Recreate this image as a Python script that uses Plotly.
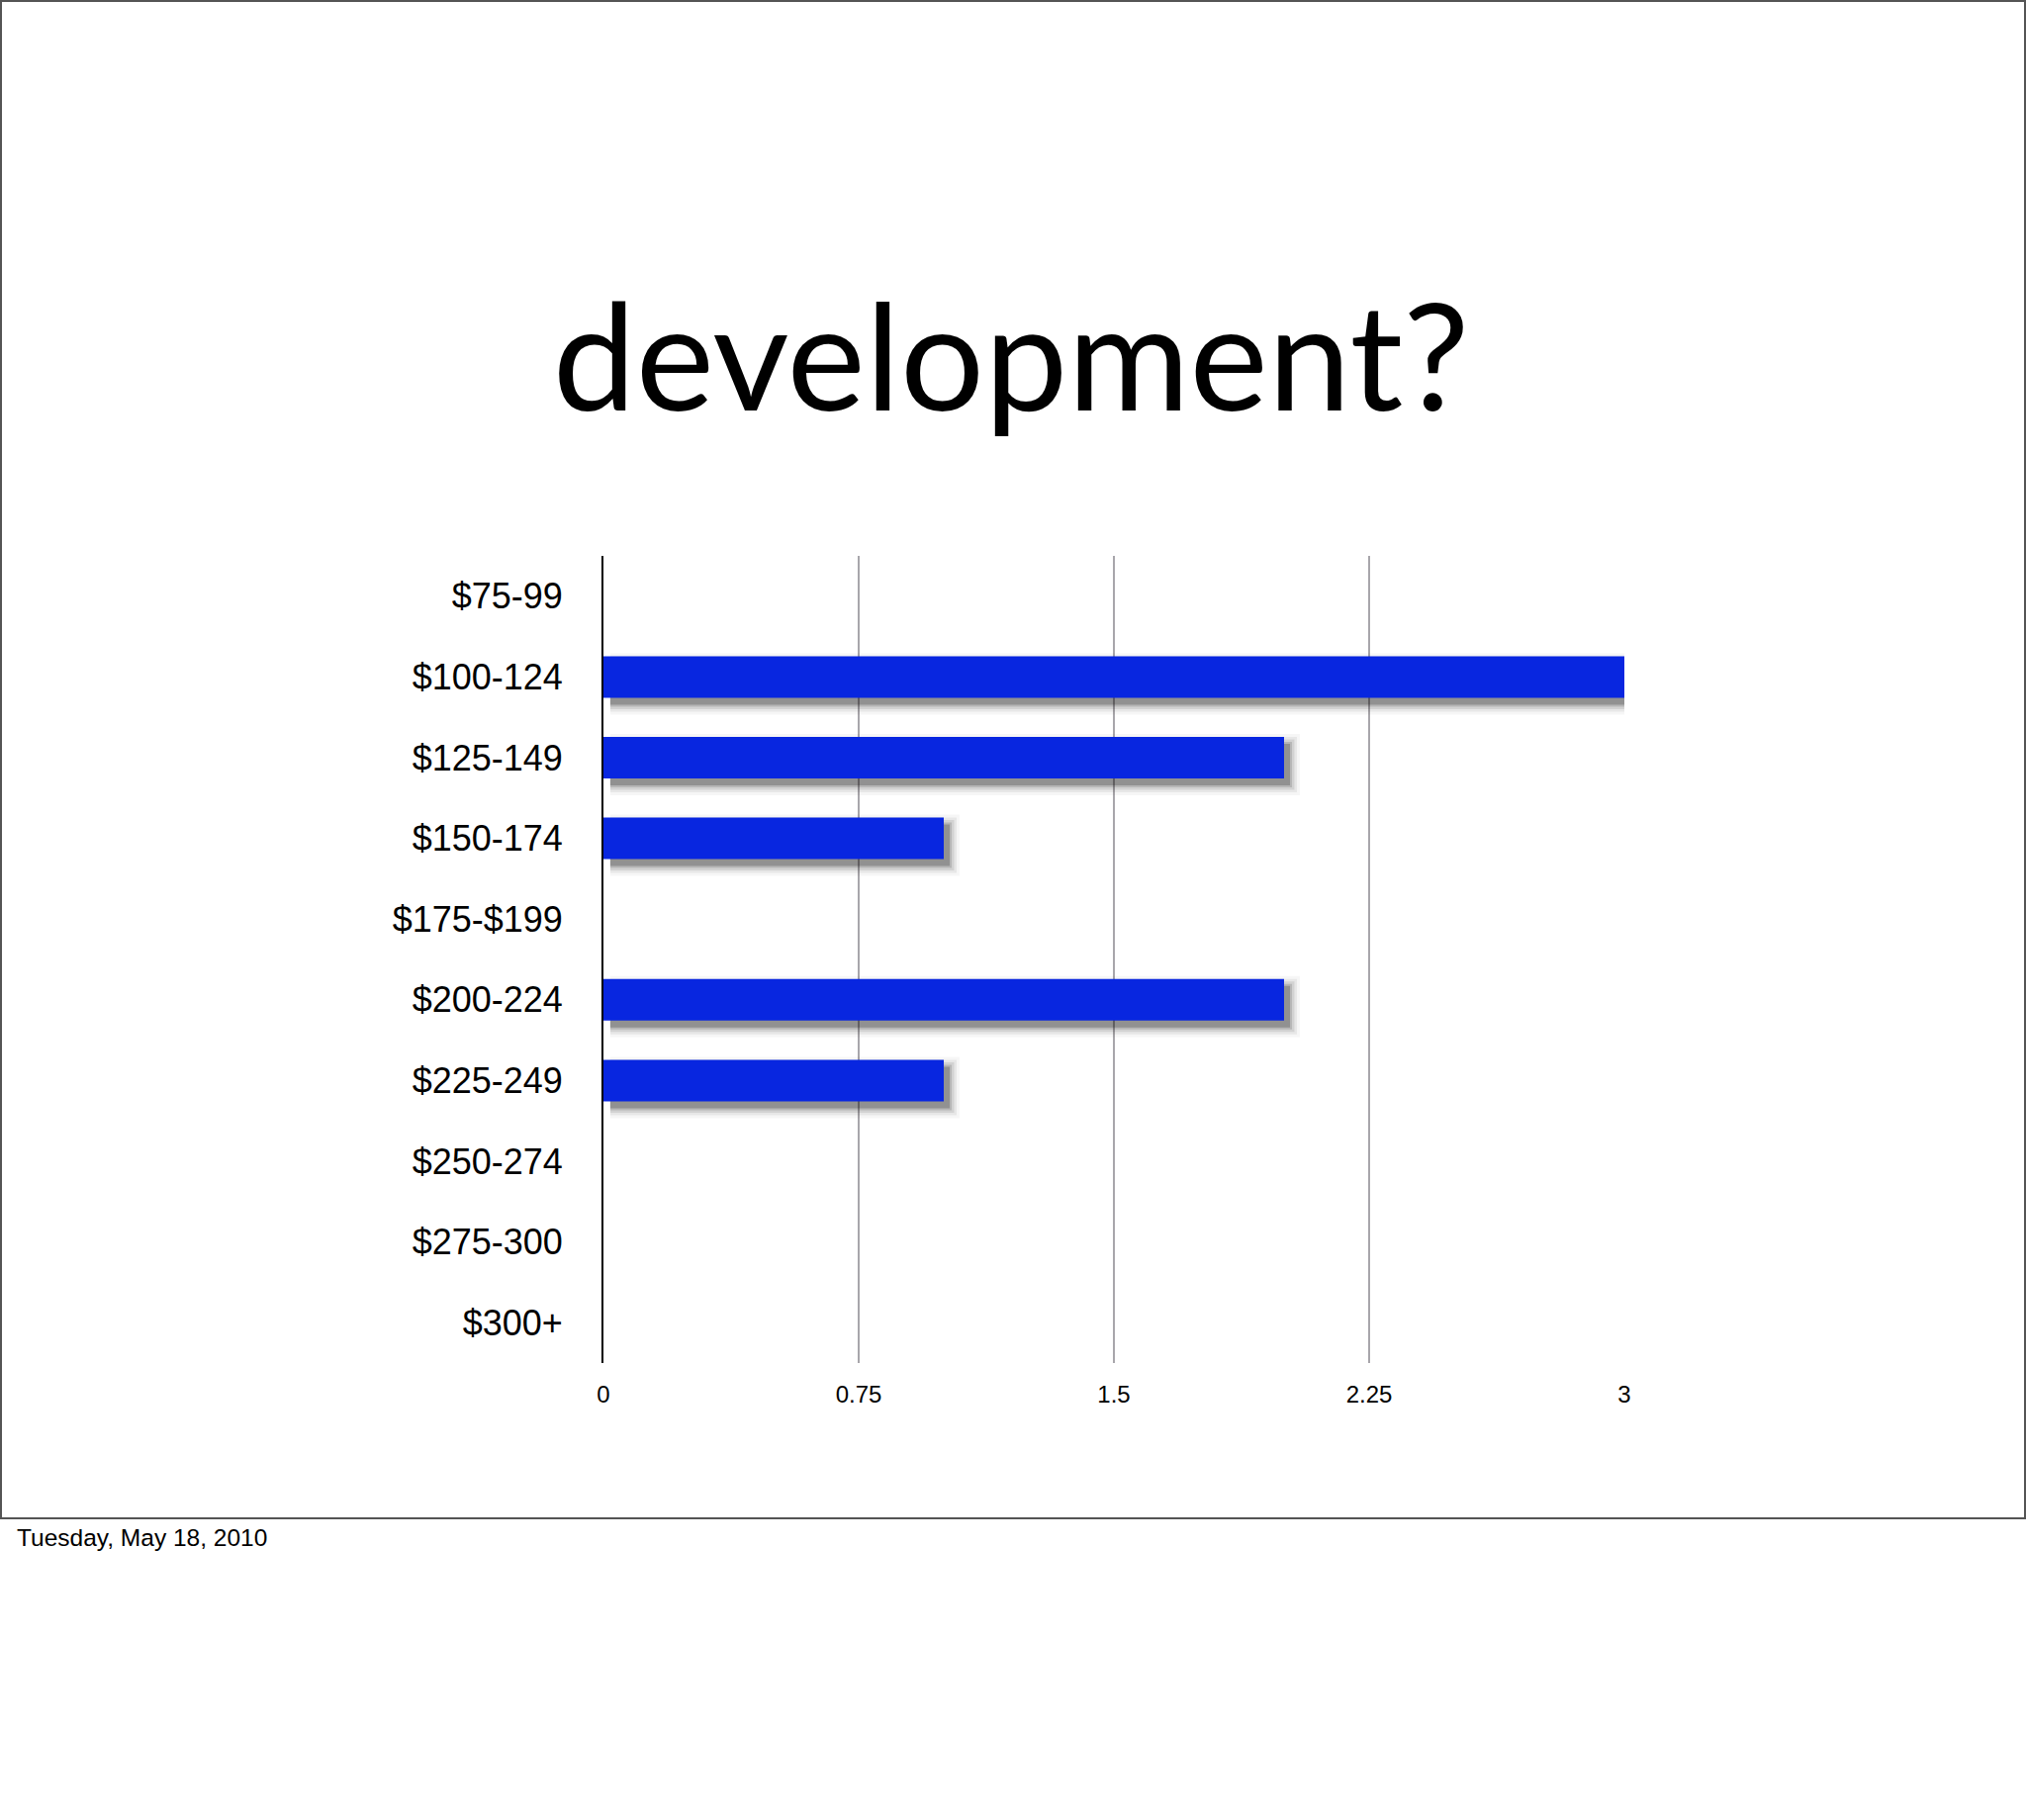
import plotly.graph_objects as go

# price ranges and counts
price_ranges = ["$75-99", "$100-124", "$125-149", "$150-174", "$175-$199",
                "$200-224", "$225-249", "$250-274", "$275-300", "$300+"]
counts = [0, 3, 2, 1, 0, 2, 1, 0, 0, 0]
x_ticks = [0, 0.75, 1.5, 2.25, 3]
x_tick_labels = ["0", "0.75", "1.5", "2.25", "3"]

W, H = 2048, 1840
L, R, T, B = 610, 1642, 562, 1378
pw, ph = R - L, B - T
px_x = pw / 3.0          # pixels per x unit
px_cat = ph / 10.0       # pixels per category

bar_w = 0.515
fig = go.Figure()

# soft drop shadow, a few layers to fake the blur
for grow_px, alpha in [(10, 0.035), (7, 0.06), (4.5, 0.09), (2, 0.13), (0, 0.2)]:
    g = grow_px / px_cat
    fig.add_trace(go.Bar(
        y=price_ranges,
        x=[c + (6 + grow_px) / px_x - 0.02 if c else 0 for c in counts],
        base=0.02, orientation="h",
        width=bar_w + 2 * g, offset=-bar_w / 2 + 7 / px_cat - g,
        marker=dict(color=f"rgba(0,0,0,{alpha})", line=dict(width=0)),
        hoverinfo="skip", showlegend=False,
    ))

fig.add_trace(go.Bar(
    y=price_ranges, x=counts, orientation="h",
    width=bar_w, offset=-bar_w / 2,
    marker=dict(color="#0826e0", line=dict(width=0)),
    showlegend=False,
))

fig.update_layout(
    width=W, height=H,
    margin=dict(l=L, r=W - R, t=T, b=H - B),
    paper_bgcolor="white", plot_bgcolor="white",
    barmode="overlay",
    font=dict(family="Liberation Sans, Arial, Helvetica, sans-serif", color="black"),
    title=dict(text="development?", x=1022 / W, xanchor="center",
               y=1 - 362 / H, yanchor="middle",
               font=dict(family="Lato, Gill Sans, sans-serif", size=150, color="black")),
    xaxis=dict(range=[0, 3], tickvals=x_ticks, ticktext=x_tick_labels,
               showgrid=True, gridcolor="#a8a6ab", gridwidth=2,
               zeroline=False, showline=False, ticks="",
               ticklabelstandoff=15, tickfont=dict(size=24)),
    yaxis=dict(categoryorder="array", categoryarray=price_ranges,
               autorange="reversed", showgrid=False, zeroline=False,
               showline=True, linecolor="black", linewidth=2, ticks="",
               ticklabelstandoff=32, tickfont=dict(size=36)),
    shapes=[dict(type="rect", xref="paper", yref="paper",
                 x0=(1 - L) / pw, x1=(W - 1 - L) / pw,
                 y0=(B - 1535) / ph, y1=(B - 1) / ph,
                 line=dict(color="#555555", width=2), layer="below")],
    annotations=[dict(text="Tuesday, May 18, 2010", xref="paper", yref="paper",
                      x=(15 - L) / pw, y=(B - 1554) / ph, xanchor="left",
                      yanchor="middle", showarrow=False,
                      font=dict(size=24.5, color="black"))],
)

# drop the browser's default body margin so the slide sits at the page corner
fig.write_html("out.html", config={"displayModeBar": False},
               post_script="document.body.style.margin='0';")
